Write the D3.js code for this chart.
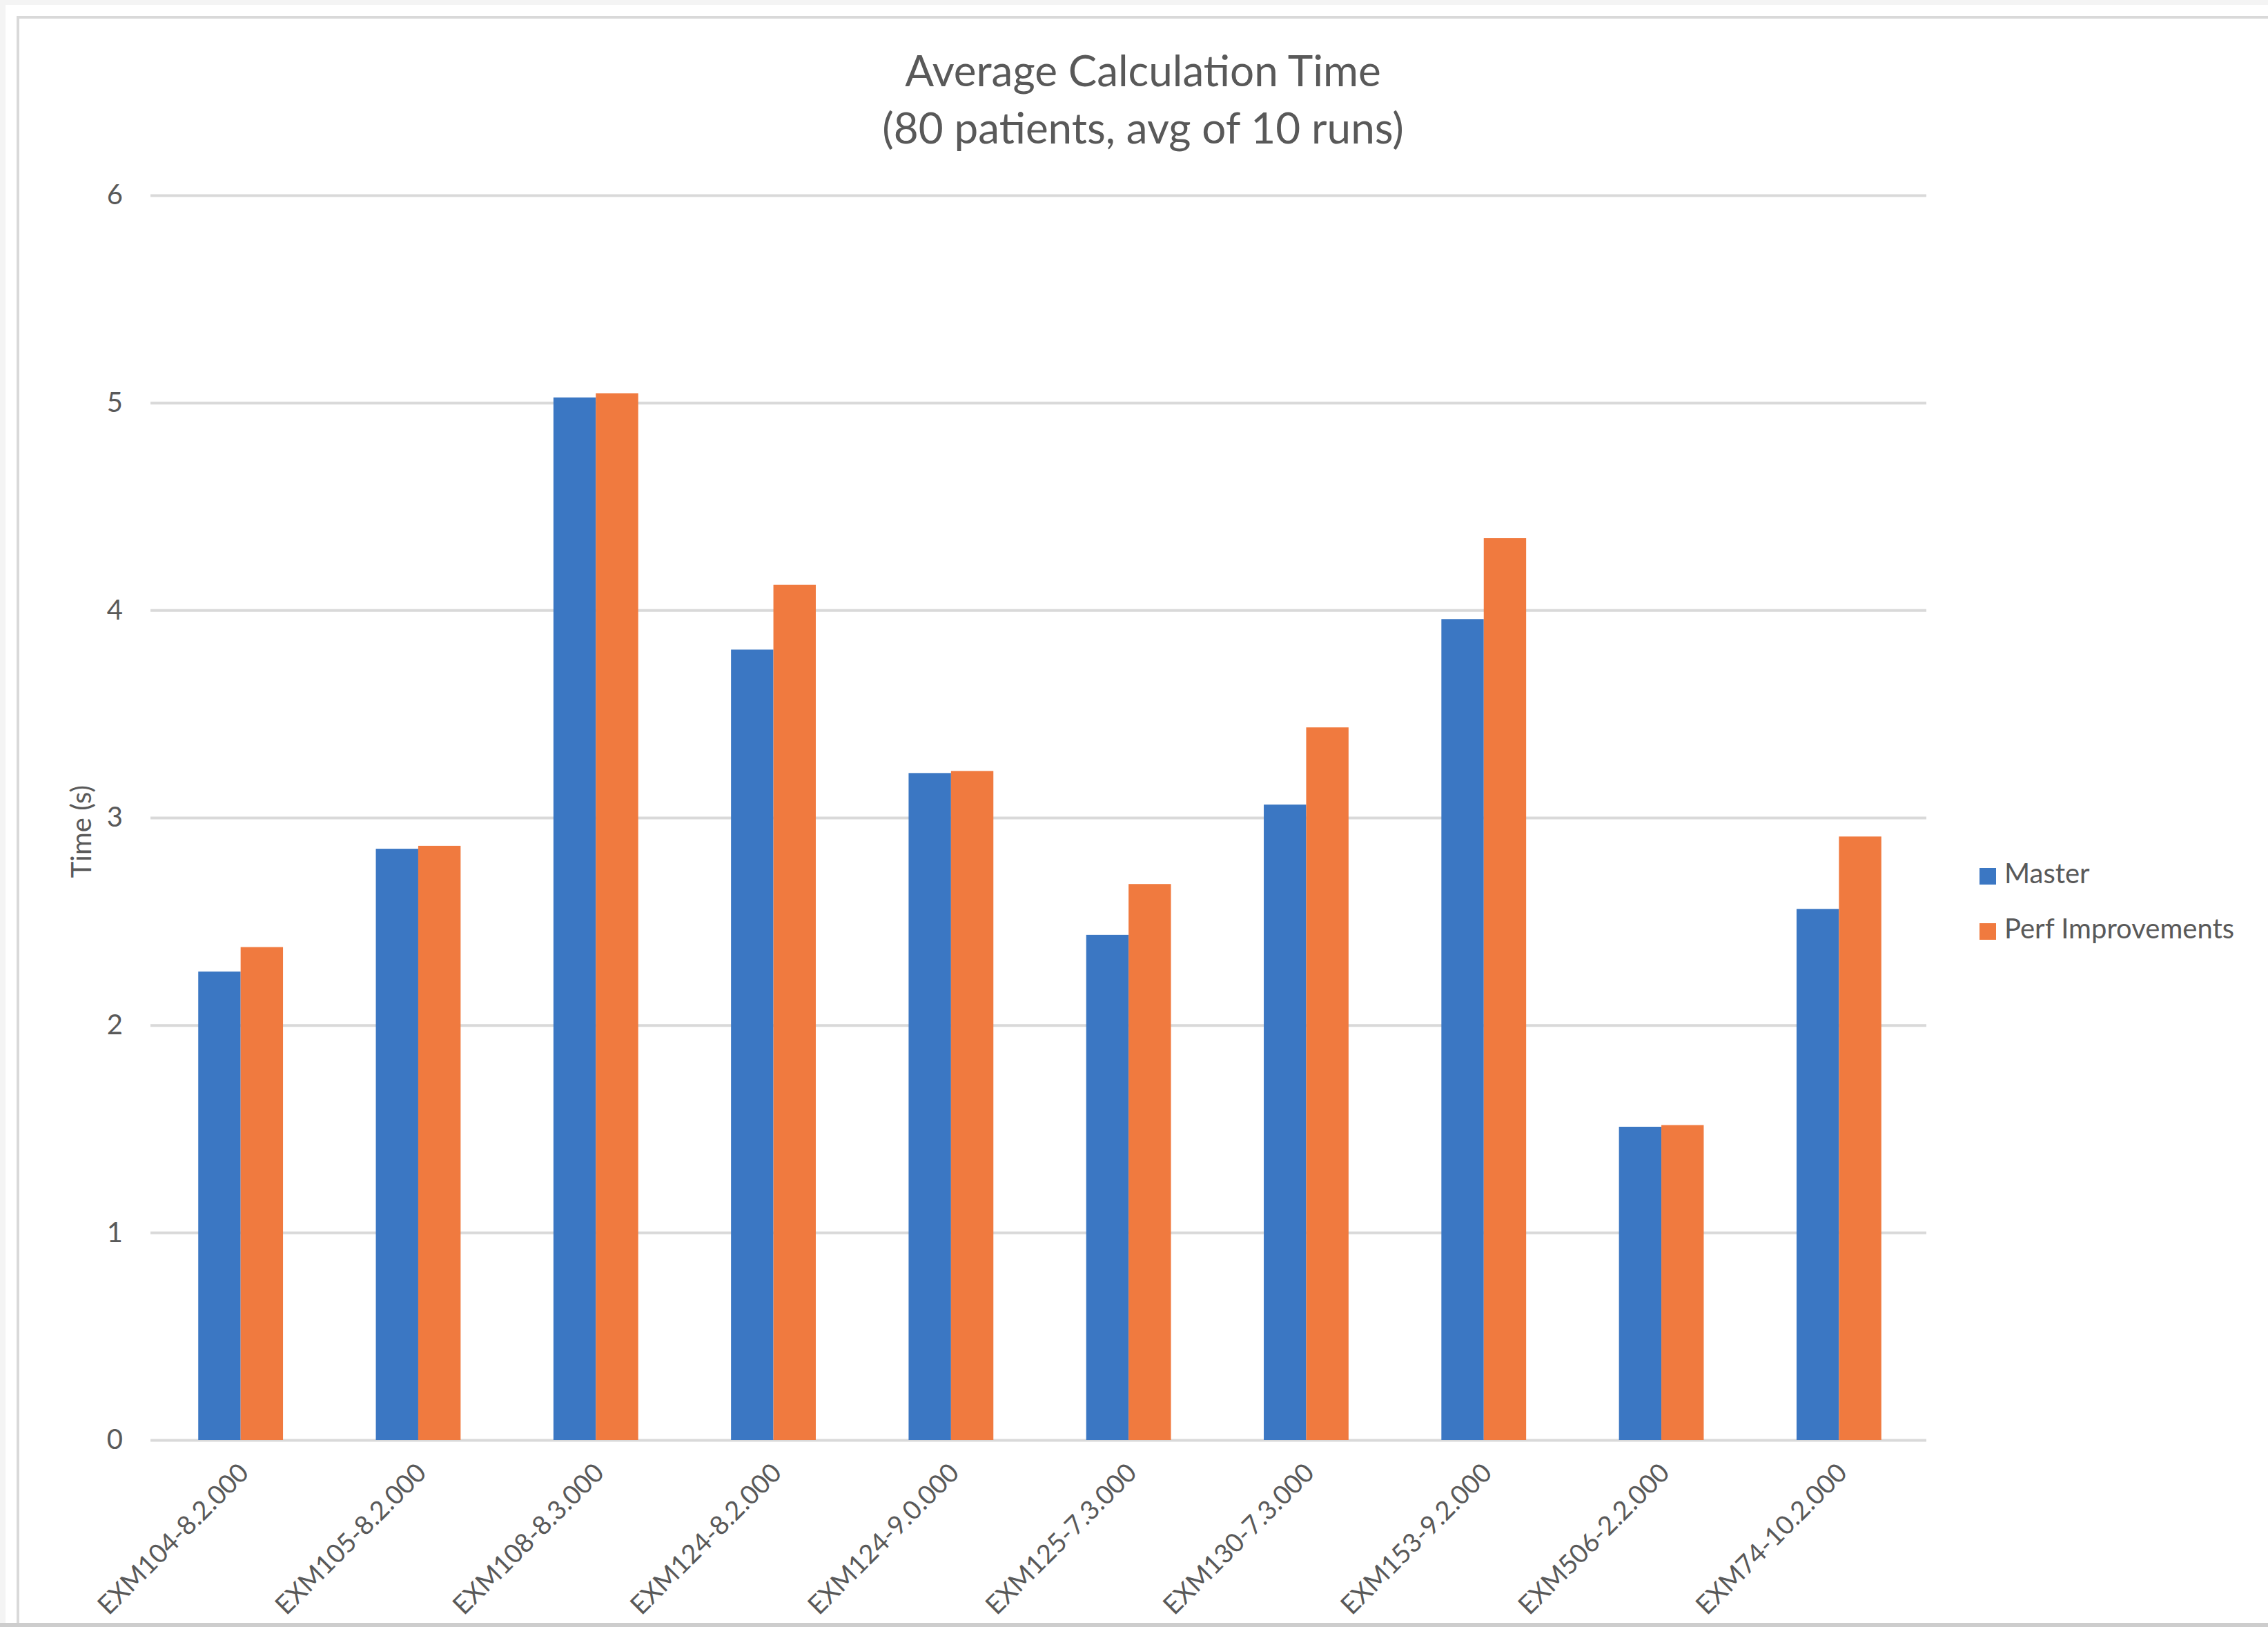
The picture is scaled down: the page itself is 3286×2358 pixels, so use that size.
<!DOCTYPE html>
<html>
<head>
<meta charset="utf-8">
<script src="https://cdn.jsdelivr.net/npm/d3@7"></script>
<style>
  html, body { margin: 0; padding: 0; background: #ffffff; }
  svg { display: block; }
  text { font-family: Lato, "Open Sans", sans-serif; fill: #595959; }
</style>
</head>
<body>
<script>
const categories = ["EXM104-8.2.000","EXM105-8.2.000","EXM108-8.3.000","EXM124-8.2.000","EXM124-9.0.000","EXM125-7.3.000","EXM130-7.3.000","EXM153-9.2.000","EXM506-2.2.000","EXM74-10.2.000"];
const seriesNames = ["Master", "Perf Improvements"];
const master = [2.258, 2.850, 5.025, 3.810, 3.215, 2.435, 3.063, 3.957, 1.510, 2.560];
const perf   = [2.376, 2.864, 5.045, 4.122, 3.225, 2.680, 3.435, 4.347, 1.518, 2.909];
const yTicks = [0, 1, 2, 3, 4, 5, 6];
const titleLines = ["Average Calculation Time", "(80 patients, avg of 10 runs)"];
const yTitle = "Time (s)";
const colors = ["#3b77c3", "#f07a3f"];

const W = 3286, H = 2358;
const plot = { left: 218, right: 2791, top: 283, bottom: 2087 };

const svg = d3.select("body").append("svg").attr("width", W).attr("height", H);

// page / frame
svg.append("rect").attr("width", W).attr("height", H).attr("fill", "#ffffff");
svg.append("rect").attr("x", 0).attr("y", 0).attr("width", W).attr("height", 7).attr("fill", "#f4f4f4");
svg.append("rect").attr("x", 0).attr("y", 0).attr("width", 8).attr("height", H).attr("fill", "#f4f4f4");
svg.append("rect").attr("x", 26).attr("y", 25).attr("width", W + 50).attr("height", H + 50)
  .attr("fill", "none").attr("stroke", "#d9d9d9").attr("stroke-width", 4);

// scales
const gapRatio = 2.19; // gap width relative to a bar
const inner = gapRatio / (2 + gapRatio);
const x0 = d3.scaleBand().domain(categories).range([plot.left + 2, plot.right + 2])
  .paddingInner(inner).paddingOuter(inner / 2);
const x1 = d3.scaleBand().domain(seriesNames).range([0, x0.bandwidth()]);
const y = d3.scaleLinear().domain([0, 6]).range([plot.bottom, plot.top]);

// gridlines
const grid = svg.append("g").attr("transform", `translate(${plot.left},0)`)
  .call(d3.axisLeft(y).tickValues(yTicks).tickSize(-(plot.right - plot.left)).tickFormat(""));
grid.select(".domain").remove();
grid.selectAll(".tick line").attr("stroke", "#d9d9d9").attr("stroke-width", 4);

// bars
const data = categories.map((c, i) => ({ cat: c, vals: [master[i], perf[i]] }));
const groups = svg.append("g").selectAll("g").data(data).join("g")
  .attr("transform", d => `translate(${x0(d.cat)},0)`);
groups.selectAll("rect").data(d => d.vals.map((v, k) => ({ name: seriesNames[k], v, k })))
  .join("rect")
  .attr("x", d => x1(d.name))
  .attr("width", x1.bandwidth())
  .attr("y", d => y(d.v))
  .attr("height", d => y(0) - y(d.v))
  .attr("fill", d => colors[d.k]);

// y tick labels
const yAxis = svg.append("g").attr("transform", `translate(${plot.left - 40},0)`)
  .call(d3.axisLeft(y).tickValues(yTicks).tickSize(0).tickPadding(0).tickFormat(d3.format("d")));
yAxis.select(".domain").remove();
yAxis.selectAll("text").attr("font-size", 40).attr("fill", "#595959")
  .style("font-family", "Lato, 'Open Sans', sans-serif");

// x labels
svg.append("g").selectAll("text").data(categories).join("text")
  .attr("transform", d => `translate(${x0(d) + x0.bandwidth() / 2 + 14},${plot.bottom + 50}) rotate(-45)`)
  .attr("text-anchor", "end")
  .attr("font-size", 38)
  .text(d => d);

// bottom edge band (drawn over labels like the cropped frame)
svg.append("rect").attr("x", 0).attr("y", 2352).attr("width", W).attr("height", 6).attr("fill", "#cdcdcd");

// y title
svg.append("text")
  .attr("transform", `translate(132,1205) rotate(-90)`)
  .attr("text-anchor", "middle")
  .attr("font-size", 40)
  .text(yTitle);

// title
svg.append("g").selectAll("text").data(titleLines).join("text")
  .attr("x", 1656)
  .attr("y", (d, i) => 125 + i * 83)
  .attr("text-anchor", "middle")
  .attr("font-size", 62)
  .text(d => d);

// legend
const legend = svg.append("g").attr("transform", "translate(2868,1258)");
const li = legend.selectAll("g").data(seriesNames).join("g")
  .attr("transform", (d, i) => `translate(0,${i * 80})`);
li.append("rect").attr("width", 24).attr("height", 24).attr("fill", (d, i) => colors[i]);
li.append("text").attr("x", 36).attr("y", 22).attr("font-size", 40).text(d => d);
</script>
</body>
</html>
